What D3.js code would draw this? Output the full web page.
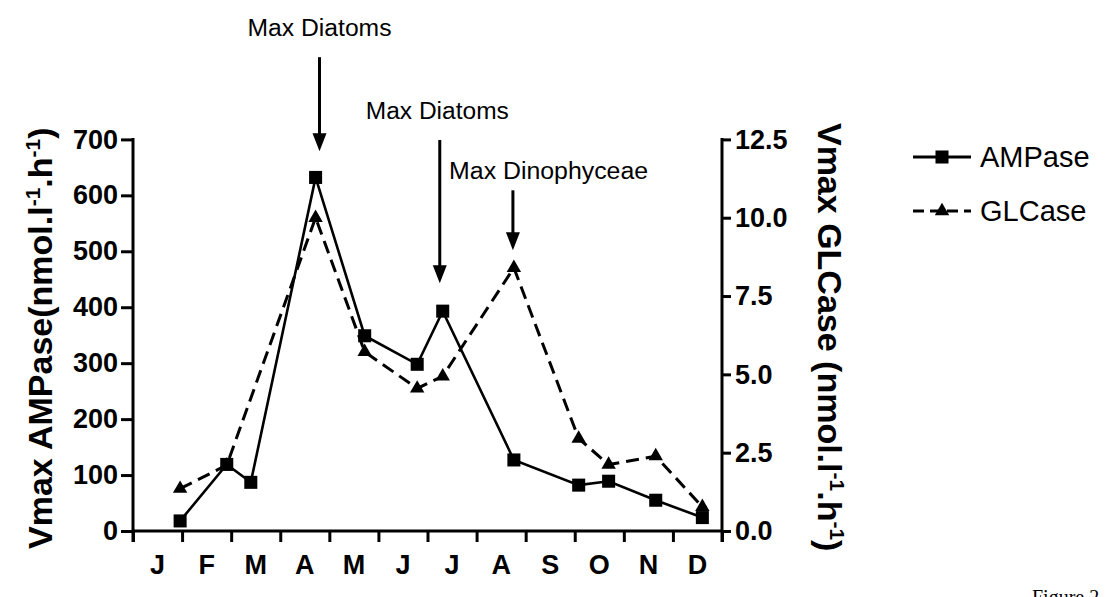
<!DOCTYPE html>
<html>
<head>
<meta charset="utf-8">
<script src="https://cdn.jsdelivr.net/npm/d3@7"></script>
<style>
  body { margin: 0; background: #fff; }
  svg { display: block; }
  text { font-family: "Liberation Sans", Arial, sans-serif; fill: #000; }
</style>
</head>
<body>
<div id="chart"></div>
<script>
// month labels on the x axis
const months = ["J", "F", "M", "A", "M", "J", "J", "A", "S", "O", "N", "D"];

// sampling dates, in months from Jan 1st, and values
const ampTime = [0.96, 1.91, 2.40, 3.72, 4.72, 5.79, 6.31, 7.76, 9.08, 9.69, 10.65, 11.6];
const ampase  = [18, 119, 87, 632, 349, 298, 393, 127, 82, 89, 55, 24];

const glTime = [0.96, 1.91, 3.72, 4.72, 5.79, 6.31, 7.76, 9.08, 9.69, 10.65, 11.6];
const glcase = [1.35, 2.1, 10.0, 5.72, 4.55, 4.94, 8.4, 2.95, 2.12, 2.39, 0.77];

const leftTicks = [0, 100, 200, 300, 400, 500, 600, 700];
const rightTicks = [0, 2.5, 5, 7.5, 10, 12.5];

// annotation arrows (time, arrow top / tip and label height in AMPase units)
const notes     = ["Max Diatoms", "Max Diatoms", "Max Dinophyceae"];
const noteTime  = [3.8, 6.25, 7.74];
const noteTop   = [847, 699, 609];
const noteTip   = [679, 443, 502];
const noteLabel = [899, 751, 643];
const noteLabelTime = [3.8, 6.2, 6.44];
const noteAnchor = ["middle", "middle", "start"];
const noteWidth = [144, 143, 199];

const width = 1108;
const height = 597;

const svg = d3.select("#chart")
    .append("svg")
        .attr("width", width)
        .attr("height", height);

const x = d3.scaleLinear().domain([0, 12]).range([133, 722]);
const yLeft = d3.scaleLinear().domain([0, 700]).range([531, 139.4]);
const yRight = d3.scaleLinear().domain([0, 12.5]).range([531, 139.4]);

// axes
const xAxis = svg.append("g")
    .attr("transform", `translate(0, ${yLeft(0)})`)
    .call(d3.axisBottom(x).tickValues(d3.range(0, 13)).tickSize(11).tickFormat(""));

const monthLabels = svg.append("g")
    .selectAll("text")
    .data(months)
    .join("text")
        .attr("x", (d, i) => x(i + 0.5))
        .attr("y", yLeft(0) + 43)
        .attr("text-anchor", "middle")
        .attr("font-size", 27)
        .attr("font-weight", "bold")
        .text(d => d);

const leftAxis = svg.append("g")
    .attr("transform", `translate(${x(0)}, 0)`)
    .call(d3.axisLeft(yLeft).tickValues(leftTicks).tickSize(12).tickPadding(3));

const rightAxis = svg.append("g")
    .attr("transform", `translate(${x(12)}, 0)`)
    .call(d3.axisRight(yRight).tickValues(rightTicks).tickSize(9).tickPadding(4)
        .tickFormat(d3.format(".1f")));

[xAxis, leftAxis, rightAxis].forEach(axis => {
    axis.select(".domain").remove();
    axis.selectAll("line").attr("stroke", "#000").attr("stroke-width", 3);
    axis.selectAll("text")
        .attr("font-size", 27)
        .attr("font-weight", "bold")
        .attr("font-family", "Liberation Sans, Arial, sans-serif")
        .attr("fill", "#000");
});

// axis lines drawn by hand so that they run through the lowest tick
svg.append("line")
    .attr("x1", x(0)).attr("x2", x(12))
    .attr("y1", yLeft(0)).attr("y2", yLeft(0))
    .attr("stroke", "#000").attr("stroke-width", 3);
svg.append("line")
    .attr("x1", x(0)).attr("x2", x(0))
    .attr("y1", yLeft(700) - 1.5).attr("y2", yLeft(0) + 11)
    .attr("stroke", "#000").attr("stroke-width", 3);
svg.append("line")
    .attr("x1", x(12)).attr("x2", x(12))
    .attr("y1", yRight(12.5) - 1.5).attr("y2", yLeft(0) + 11)
    .attr("stroke", "#000").attr("stroke-width", 3);

// axis titles, with the unit exponents raised
function addTitle(g, main) {
    g.append("tspan").text(main + "(nmol.l");
    g.append("tspan").attr("font-size", 21).attr("dy", -12).text("-1");
    g.append("tspan").attr("dy", 12).text(".h");
    g.append("tspan").attr("font-size", 21).attr("dy", -12).text("-1");
    g.append("tspan").attr("dy", 12).text(")");
}

const leftTitle = svg.append("text")
    .attr("transform", `translate(52, ${(yLeft(0) + yLeft(700)) / 2 + 3}) rotate(-90)`)
    .attr("text-anchor", "middle")
    .attr("font-size", 34)
    .attr("font-weight", "bold");
addTitle(leftTitle, "Vmax AMPase");

const rightTitle = svg.append("text")
    .attr("transform", `translate(818, ${(yLeft(0) + yLeft(700)) / 2 + 2}) rotate(90)`)
    .attr("text-anchor", "middle")
    .attr("font-size", 34)
    .attr("font-weight", "bold");
addTitle(rightTitle, "Vmax GLCase ");

// lines
const ampData = ampTime.map((t, i) => [t, ampase[i]]);
const glData = glTime.map((t, i) => [t, glcase[i]]);

svg.append("path")
    .datum(glData)
    .attr("fill", "none")
    .attr("stroke", "#000")
    .attr("stroke-width", 3)
    .attr("stroke-dasharray", "13,7")
    .attr("d", d3.line().x(d => x(d[0])).y(d => yRight(d[1])));

svg.append("path")
    .datum(ampData)
    .attr("fill", "none")
    .attr("stroke", "#000")
    .attr("stroke-width", 2.6)
    .attr("d", d3.line().x(d => x(d[0])).y(d => yLeft(d[1])));

const triangle = d3.symbol().type(d3.symbolTriangle).size(90);
const square = d3.symbol().type(d3.symbolSquare).size(170);

svg.append("g")
    .selectAll("path")
    .data(glData)
    .join("path")
        .attr("transform", d => `translate(${x(d[0])}, ${yRight(d[1])})`)
        .attr("d", triangle)
        .attr("fill", "#000");

svg.append("g")
    .selectAll("path")
    .data(ampData)
    .join("path")
        .attr("transform", d => `translate(${x(d[0])}, ${yLeft(d[1])})`)
        .attr("d", square)
        .attr("fill", "#000");

// annotations
notes.forEach((label, i) => {
    const ax = x(noteTime[i]);
    const top = yLeft(noteTop[i]);
    const tip = yLeft(noteTip[i]);
    svg.append("line")
        .attr("x1", ax).attr("x2", ax)
        .attr("y1", top).attr("y2", tip - 14)
        .attr("stroke", "#000").attr("stroke-width", 3);
    svg.append("path")
        .attr("d", `M${ax - 7},${tip - 18}L${ax + 7},${tip - 18}L${ax},${tip}Z`)
        .attr("fill", "#000");
    svg.append("text")
        .attr("x", x(noteLabelTime[i]))
        .attr("y", yLeft(noteLabel[i]) + 8)
        .attr("text-anchor", noteAnchor[i])
        .attr("font-size", 23)
        .attr("textLength", noteWidth[i])
        .attr("lengthAdjust", "spacingAndGlyphs")
        .text(label);
});

// legend
const legend = svg.append("g").attr("transform", "translate(913, 157)");
const legendRows = [
    { name: "AMPase", dash: null, marker: square, dy: 0 },
    { name: "GLCase", dash: "11,6", marker: triangle, dy: 54 }
];
legendRows.forEach(row => {
    const g = legend.append("g").attr("transform", `translate(0, ${row.dy})`);
    g.append("line")
        .attr("x1", 0).attr("x2", 58)
        .attr("stroke", "#000").attr("stroke-width", 3)
        .attr("stroke-dasharray", row.dash);
    g.append("path")
        .attr("transform", "translate(29, 0)")
        .attr("d", row.marker)
        .attr("fill", "#000");
    g.append("text")
        .attr("x", 67)
        .attr("y", 10)
        .attr("font-size", 29)
        .text(row.name);
});

// figure caption, cut off by the bottom edge as in the original scan
svg.append("text")
    .attr("x", 1032)
    .attr("y", 604)
    .style("font-family", "Liberation Serif, Times New Roman, serif")
    .attr("font-size", 20)
    .text("Figure 2");
</script>
</body>
</html>
